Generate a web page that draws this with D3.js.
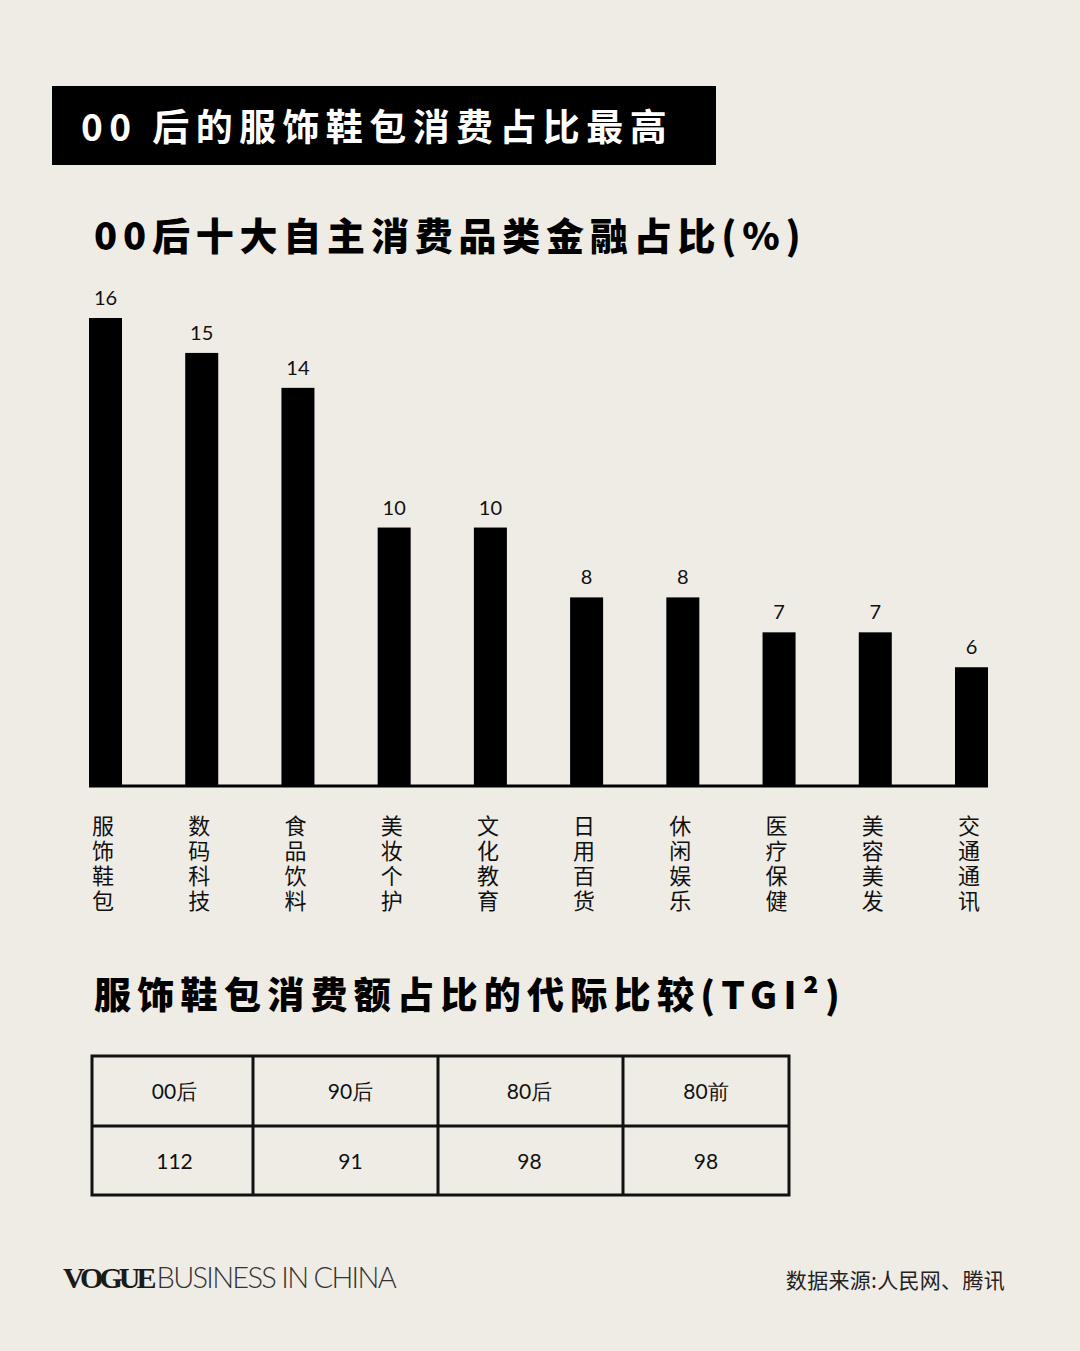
<!DOCTYPE html>
<html>
<head>
<meta charset="utf-8">
<script src="https://cdn.jsdelivr.net/npm/d3@7"></script>
<style>
  html, body { margin: 0; padding: 0; background: #efece5; }
  svg { display: block; }
</style>
</head>
<body>
<svg id="chart"></svg>
<script>
// data
const categories = ["服饰鞋包", "数码科技", "食品饮料", "美妆个护", "文化教育", "日用百货", "休闲娱乐", "医疗保健", "美容美发", "交通通讯"];
const shares = [16, 15, 14, 10, 10, 8, 8, 7, 7, 6];
const generations = ["00后", "90后", "80后", "80前"];
const tgi = [112, 91, 98, 98];

const width = 1080, height = 1351;
const cjk = "'Noto Sans CJK SC', 'Noto Sans', sans-serif";
const num = "Lato, 'Noto Sans', sans-serif";

const svg = d3.select("#chart")
  .attr("width", width)
  .attr("height", height)
  .attr("viewBox", [0, 0, width, height]);

svg.append("rect").attr("width", width).attr("height", height).attr("fill", "#efece5");

// title block
svg.append("rect")
  .attr("x", 52).attr("y", 86).attr("width", 664).attr("height", 79)
  .attr("fill", "#000");
svg.append("text")
  .attr("x", 81).attr("y", 141)
  .attr("fill", "#fff")
  .attr("font-family", cjk).attr("font-weight", 700)
  .attr("font-size", 37).attr("letter-spacing", 6.4)
  .text("00 后的服饰鞋包消费占比最高");

svg.append("text")
  .attr("x", 94).attr("y", 250)
  .attr("font-family", cjk).attr("font-weight", 900)
  .attr("font-size", 38).attr("letter-spacing", 5.8)
  .text("00后十大自主消费品类金融占比(%)");

// bar chart
const baseline = 786;
const x = d3.scaleBand(categories, [89, 988]).paddingInner(0.657).paddingOuter(0);
const y = d3.scaleLinear([2.6, 16], [baseline, 318]);

const chart = svg.append("g");

chart.append("g")
  .selectAll("rect")
  .data(categories)
  .join("rect")
  .attr("x", d => x(d))
  .attr("y", (d, i) => y(shares[i]))
  .attr("width", x.bandwidth())
  .attr("height", (d, i) => baseline + 1 - y(shares[i]))
  .attr("fill", "#000");

chart.append("line")
  .attr("x1", 89).attr("x2", 988)
  .attr("y1", baseline).attr("y2", baseline)
  .attr("stroke", "#000").attr("stroke-width", 3);

chart.append("g")
  .selectAll("text")
  .data(categories)
  .join("text")
  .attr("x", d => x(d) + x.bandwidth() / 2)
  .attr("y", (d, i) => y(shares[i]) - 13)
  .attr("text-anchor", "middle")
  .attr("font-family", num).attr("font-size", 20)
  .attr("fill", "#111")
  .text((d, i) => shares[i]);

// vertical category labels
chart.append("g")
  .selectAll("text")
  .data(categories)
  .join("text")
  .attr("x", d => x(d) + 14)
  .attr("y", 815)
  .attr("writing-mode", "tb")
  .attr("font-family", cjk).attr("font-size", 22)
  .attr("letter-spacing", 3)
  .attr("fill", "#111")
  .text(d => d);

// second title
svg.append("text")
  .attr("x", 94).attr("y", 1009)
  .attr("font-family", cjk).attr("font-weight", 900)
  .attr("font-size", 37).attr("letter-spacing", 6.3)
  .text("服饰鞋包消费额占比的代际比较(TGI²)");

// table
const colEdges = [92, 253, 438, 623, 789];
const tTop = 1056, tMid = 1126, tBot = 1195;
const table = svg.append("g").attr("stroke", "#111").attr("stroke-width", 3).attr("fill", "none");
table.append("rect")
  .attr("x", colEdges[0]).attr("y", tTop)
  .attr("width", colEdges[4] - colEdges[0]).attr("height", tBot - tTop);
table.append("line").attr("x1", colEdges[0]).attr("x2", colEdges[4]).attr("y1", tMid).attr("y2", tMid);
table.selectAll(".col")
  .data(colEdges.slice(1, 4))
  .join("line")
  .attr("class", "col")
  .attr("x1", d => d).attr("x2", d => d)
  .attr("y1", tTop).attr("y2", tBot);

const cellX = (i) => (colEdges[i] + colEdges[i + 1]) / 2 + [2, 5, -1, 0][i];
svg.append("g")
  .selectAll("text")
  .data(generations)
  .join("text")
  .attr("x", (d, i) => cellX(i))
  .attr("y", 1099)
  .attr("text-anchor", "middle")
  .attr("font-family", num).attr("font-size", 21).attr("fill", "#111")
  .text(d => d);
svg.append("g")
  .selectAll("text")
  .data(tgi)
  .join("text")
  .attr("x", (d, i) => cellX(i))
  .attr("y", 1169)
  .attr("text-anchor", "middle")
  .attr("font-family", num).attr("font-size", 21).attr("fill", "#111")
  .text(d => d);

// footer
const logo = svg.append("text")
  .attr("x", 63).attr("y", 1288)
  .attr("font-size", 30).attr("fill", "#1a1a1a");
logo.append("tspan")
  .attr("font-family", "'Liberation Serif', serif").attr("font-weight", 700)
  .attr("letter-spacing", -3.5)
  .attr("textLength", 90)
  .text("VOGUE");
logo.append("tspan")
  .attr("dx", 4)
  .attr("font-family", "Lato, 'Open Sans', sans-serif").attr("font-weight", 300)
  .attr("font-size", 29)
  .attr("letter-spacing", -1.7)
  .attr("fill", "#333")
  .text("BUSINESS IN CHINA");

svg.append("text")
  .attr("x", 1005).attr("y", 1288)
  .attr("text-anchor", "end")
  .attr("font-family", cjk).attr("font-size", 21).attr("fill", "#222")
  .attr("letter-spacing", 0.3)
  .text("数据来源:人民网、腾讯");
</script>
</body>
</html>
